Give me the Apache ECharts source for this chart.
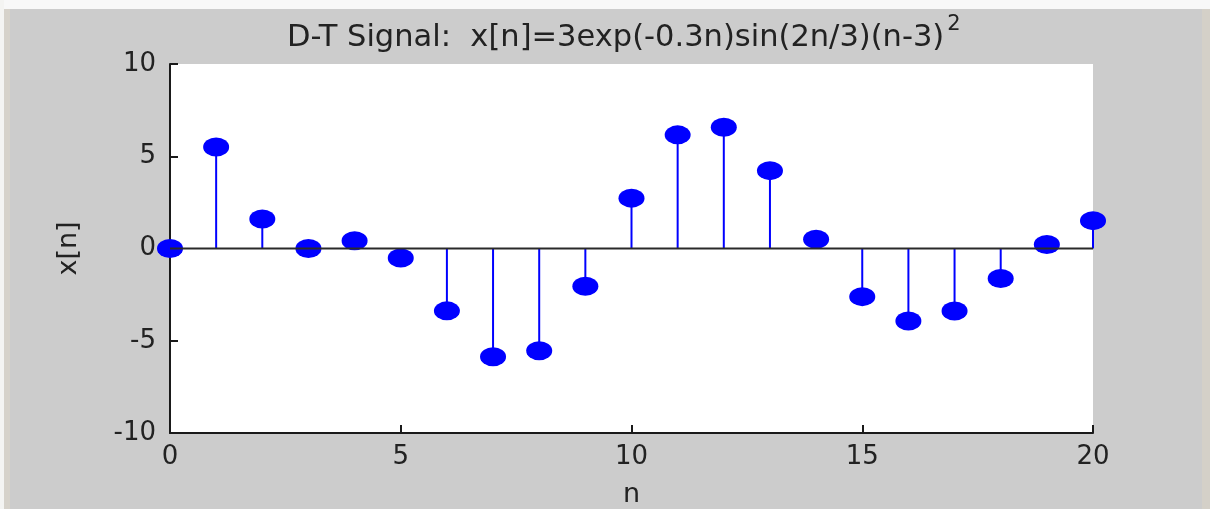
<!DOCTYPE html>
<html>
<head>
<meta charset="utf-8">
<script src="https://cdn.jsdelivr.net/npm/echarts@6/dist/echarts.min.js"></script>
<style>
html,body{margin:0;padding:0;background:#cccccc;overflow:hidden;}
#chart{width:1210px;height:509px;}
</style>
</head>
<body>
<div id="chart"></div>
<script>
// Data
const nValues = [0,1,2,3,4,5,6,7,8,9,10,11,12,13,14,15,16,17,18,19,20];
const xValues = [0, 5.5, 1.6, 0, 0.42, -0.51, -3.38, -5.87, -5.54, -2.05, 2.73, 6.16, 6.57, 4.22, 0.5, -2.61, -3.93, -3.39, -1.63, 0.22, 1.51];
const xTicks = [0, 5, 10, 15, 20];
const yTicks = [-10, -5, 0, 5, 10];
const titleMain = 'D-T Signal:  x[n]=3exp(-0.3n)sin(2n/3)(n-3)';
const titleSup = '2';
const xName = 'n';
const yName = 'x[n]';

const points = nValues.map((n, i) => [n, xValues[i]]);
const FONT = '"DejaVu Sans", Verdana, sans-serif';

const chart = echarts.init(document.getElementById('chart'), null, {renderer: 'canvas'});
chart.setOption({
  backgroundColor: '#cccccc',
  animation: false,
  title: {
    text: '{m|' + titleMain + '}{s|' + titleSup + '}',
    left: 282,
    top: 9,
    textStyle: {
      fontWeight: 'normal',
      rich: {
        m: {fontFamily: FONT, fontSize: 30.5, fontWeight: 'normal', color: '#222', lineHeight: 40, verticalAlign: 'bottom'},
        s: {fontFamily: FONT, fontSize: 21, fontWeight: 'normal', color: '#222', lineHeight: 40, verticalAlign: 'top', padding: [0,0,5,3]}
      }
    }
  },
  graphic: [
    {type: 'rect', shape: {x: 0, y: 0, width: 1210, height: 9}, style: {fill: '#f8f8f8'}, silent: true},
    {type: 'rect', shape: {x: 0, y: 0, width: 4, height: 509}, style: {fill: '#f4f4f2'}, silent: true},
    {type: 'rect', shape: {x: 4, y: 9, width: 6, height: 500}, style: {fill: '#d6d2ca'}, silent: true},
    {type: 'rect', shape: {x: 1202, y: 9, width: 8, height: 500}, style: {fill: '#d4d0c8'}, silent: true}
  ],
  grid: {
    left: 170, right: 117, top: 64, bottom: 76,
    outerBoundsMode: 'none', containLabel: false,
    show: true, backgroundColor: '#ffffff', borderWidth: 0
  },
  xAxis: {
    type: 'value', min: xTicks[0], max: xTicks[xTicks.length - 1], interval: 5,
    name: xName, nameLocation: 'middle', nameGap: 48,
    nameTextStyle: {fontFamily: FONT, fontSize: 27, color: '#222'},
    axisLine: {onZero: false, lineStyle: {color: '#1a1a1a', width: 2}},
    axisTick: {inside: true, length: 8, lineStyle: {color: '#1a1a1a', width: 2}},
    axisLabel: {fontFamily: FONT, fontSize: 26, color: '#222', margin: 11},
    splitLine: {show: false}
  },
  yAxis: {
    type: 'value', min: yTicks[0], max: yTicks[yTicks.length - 1], interval: 5,
    name: yName, nameLocation: 'middle', nameGap: 88, nameRotate: 90,
    nameTextStyle: {fontFamily: FONT, fontSize: 27, color: '#222'},
    axisLine: {show: true, lineStyle: {color: '#1a1a1a', width: 2}},
    axisTick: {show: true, inside: true, length: 8, lineStyle: {color: '#1a1a1a', width: 2}},
    axisLabel: {fontFamily: FONT, fontSize: 26, color: '#222', margin: 14},
    splitLine: {show: false}
  },
  series: [
    {
      type: 'custom',
      z: 2,
      silent: true,
      data: points,
      renderItem: function (params, api) {
        const p0 = api.coord([api.value(0), 0]);
        const p1 = api.coord([api.value(0), api.value(1)]);
        return {
          type: 'line',
          shape: {x1: p0[0], y1: p0[1], x2: p1[0], y2: p1[1]},
          style: {stroke: '#0000ff', lineWidth: 2}
        };
      }
    },
    {
      type: 'scatter',
      z: 3,
      data: points,
      symbol: 'circle',
      symbolSize: [26, 19],
      itemStyle: {color: '#0000ff', opacity: 1},
      silent: true
    },
    {
      type: 'line',
      z: 4,
      data: [[xTicks[0], 0], [xTicks[xTicks.length - 1], 0]],
      symbol: 'none',
      lineStyle: {color: '#2a2a2a', width: 2},
      silent: true
    }
  ]
});
</script>
</body>
</html>
